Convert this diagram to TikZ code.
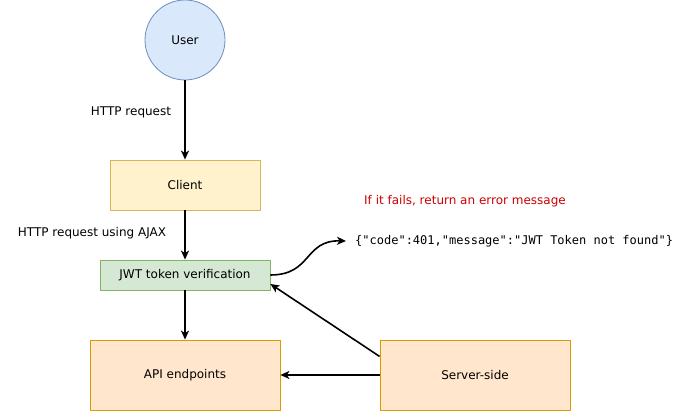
\documentclass[tikz,border=0pt]{standalone}
\usepackage{fontspec}
\setmainfont{DejaVu Sans}
\setmonofont{DejaVu Sans Mono}
\usetikzlibrary{arrows.meta}
\definecolor{userfill}{HTML}{DAE8FC}\definecolor{userline}{HTML}{6C8EBF}
\definecolor{clientfill}{HTML}{FFF2CC}\definecolor{clientline}{HTML}{D6B656}
\definecolor{jwtfill}{HTML}{D5E8D4}\definecolor{jwtline}{HTML}{82B366}
\definecolor{srvfill}{HTML}{FFE6CC}\definecolor{srvline}{HTML}{D79B00}
\definecolor{errred}{HTML}{CC0000}
\begin{document}
\begin{tikzpicture}[x=1pt,y=-1pt,line join=round,font=\fontsize{12}{14}\selectfont,
	>={Stealth[length=9pt,width=8pt,inset=2.5pt]},
	box/.style 2 args={draw=#2,fill=#1,line width=.8pt,inner sep=0pt},
	link/.style={->,line width=1.6pt}]
	\useasboundingbox (0,0) rectangle (681,411);
	\node[box={userfill}{userline},circle,minimum size=80pt](user) at (185,40){User};
	\node[box={clientfill}{clientline},minimum width=150pt,minimum height=50pt](client) at (185,185){Client};
	\node[box={jwtfill}{jwtline},minimum width=170pt,minimum height=30pt](jwt) at (185,275){JWT token verification};
	\node[box={srvfill}{srvline},minimum width=190pt,minimum height=70pt](api) at (185,375){API endpoints};
	\node[box={srvfill}{srvline},minimum width=190pt,minimum height=70pt](srv) at (475,375){Server-side};
	\node(req) at (131,112){HTTP request};
	\node(ajax) at (92,233){HTTP request using AJAX};
	\node[text=errred](fail) at (465,201){If it fails, return an error message};
	\node[anchor=west,inner sep=0pt,font=\fontsize{12}{14}\ttfamily](code) at (355,241){\{"code":401,"message":"JWT Token not found"\}};
	\foreach \a/\b in {user/client,client/jwt,jwt/api}\draw[link] (\a)--(\b);
	\draw[link] (srv)--(api);
	\draw[link] (srv.169)--(jwt.354);
	\draw[link] (jwt.east) .. controls (312,275) and (304,240) .. ([xshift=-9pt]code.west);
\end{tikzpicture}
\end{document}
